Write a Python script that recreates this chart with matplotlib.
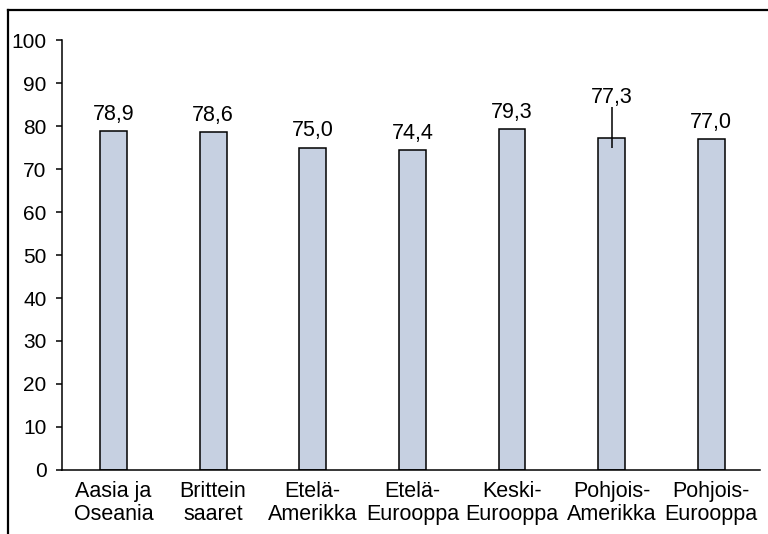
import numpy as np
import matplotlib.pyplot as plt
from matplotlib.lines import Line2D

plt.rcParams['font.family'] = ['Liberation Sans', 'DejaVu Sans']

regions = ['Aasia ja\nOseania', 'Brittein\nsaaret', 'Etelä-\nAmerikka', 'Etelä-\nEurooppa',
           'Keski-\nEurooppa', 'Pohjois-\nAmerikka', 'Pohjois-\nEurooppa']
values = [78.9, 78.6, 75.0, 74.4, 79.3, 77.3, 77.0]
# only Pohjois-Amerikka carries an error line (below, above)
err_low = [0, 0, 0, 0, 0, 2.3, 0]
err_high = [0, 0, 0, 0, 0, 7.1, 0]
yticks = [0, 10, 20, 30, 40, 50, 60, 70, 80, 90, 100]

fig = plt.figure(figsize=(7.68, 5.34), dpi=100)
ax = fig.add_axes([0.0807, 0.1199, 0.9089, 0.8051])

x = np.arange(len(regions))
ax.bar(x, values, width=0.27, color='#c6d0e1', edgecolor='black', linewidth=1.1, zorder=2)

for i in range(len(x)):
    if err_high[i] > 0:
        ax.vlines(x[i], values[i] - err_low[i], values[i] + err_high[i], color='black', lw=1.1, zorder=3)
        top = values[i] + err_high[i]
        off = 3
    else:
        top = values[i]
        off = 8
    ax.annotate(f'{values[i]:.1f}'.replace('.', ','), (x[i], top), xytext=(0, off),
                textcoords='offset points', ha='center', va='baseline', fontsize=15.5)

ax.set_xlim(-0.517, 6.49)
ax.set_ylim(0, 100)
ax.set_yticks(yticks)
ax.set_xticks(x)
ax.set_xticklabels(regions, fontsize=15.5, linespacing=1.15)
ax.tick_params(axis='x', length=0, pad=8)
ax.tick_params(axis='y', direction='out', length=4, width=1.1, pad=7, labelsize=15)

for side in ['top', 'right']:
    ax.spines[side].set_visible(False)
for side in ['left', 'bottom']:
    ax.spines[side].set_linewidth(1.1)

# outer frame, only its left and top edges fall inside the image
fig.add_artist(Line2D([0.0104, 0.0104], [0, 0.981], transform=fig.transFigure, color='black', lw=1.6))
fig.add_artist(Line2D([0.0104, 1.0], [0.981, 0.981], transform=fig.transFigure, color='black', lw=1.6))

fig.savefig('out.png', dpi=100)
